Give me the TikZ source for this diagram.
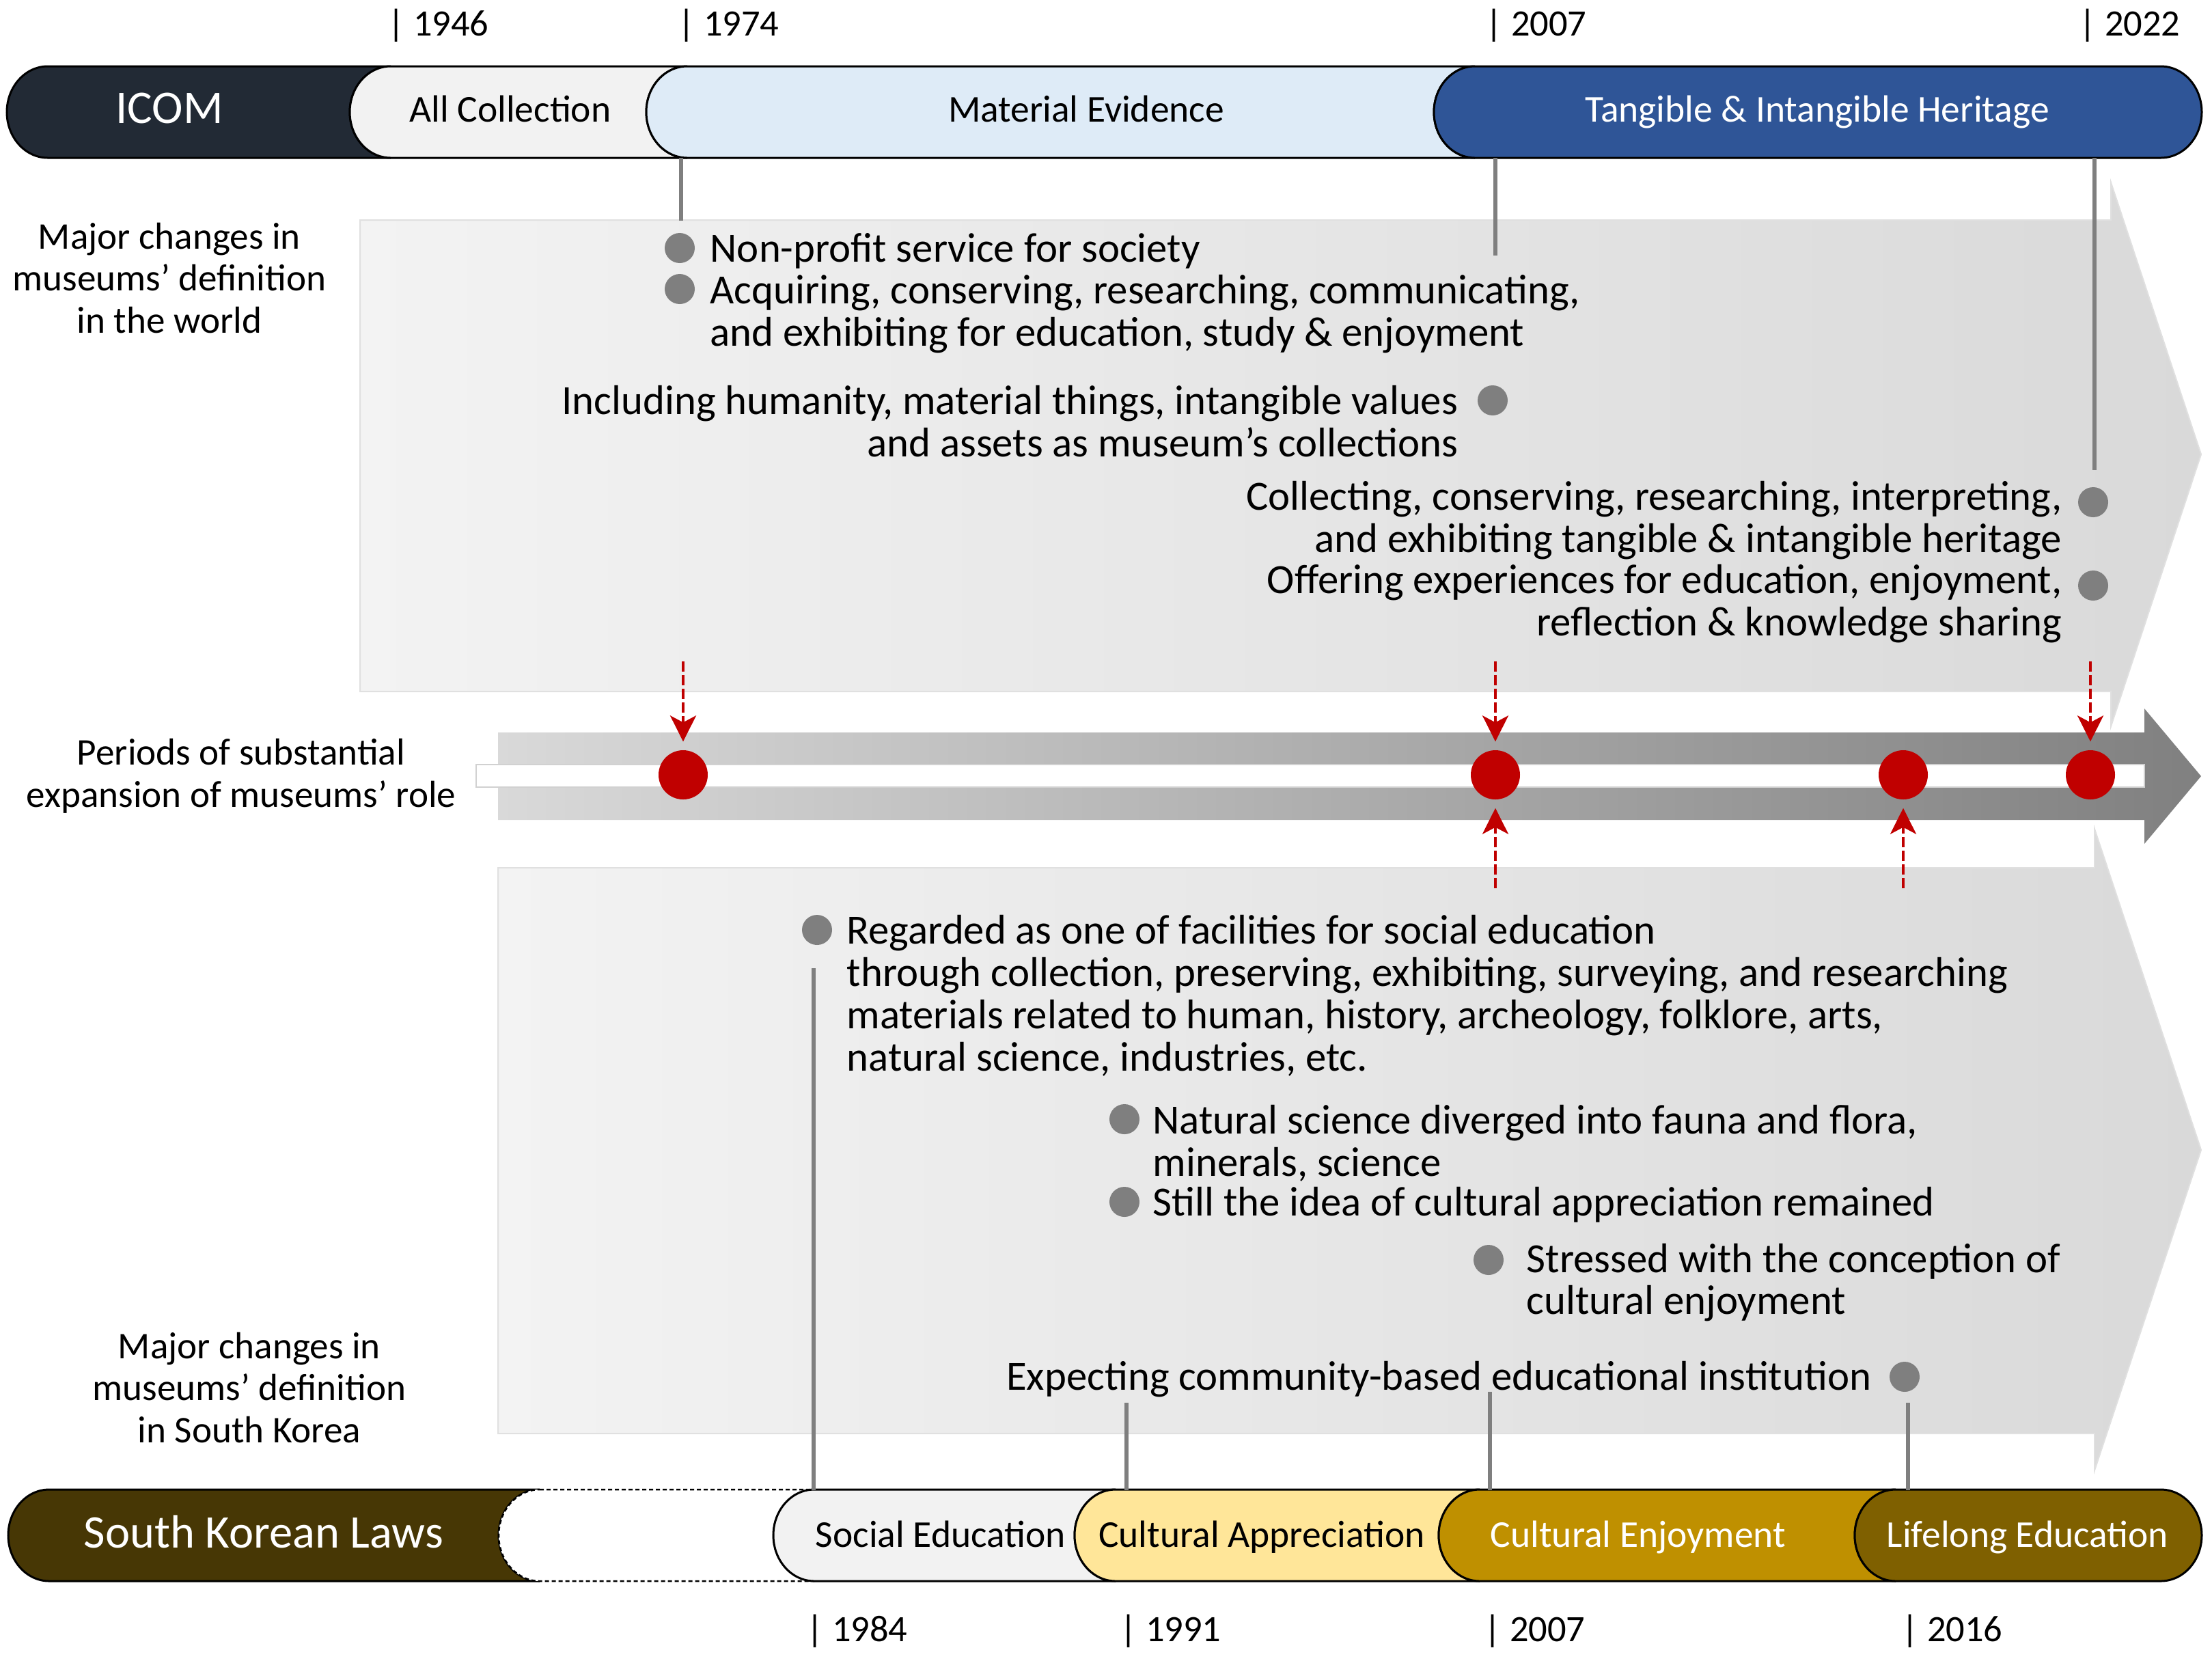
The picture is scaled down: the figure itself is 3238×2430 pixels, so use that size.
\documentclass[tikz,border=0pt]{standalone}
\usepackage{fontspec}
\setmainfont{Carlito}
\usepackage{tikz}
\usetikzlibrary{arrows.meta}
\usepackage{xcolor}
\definecolor{icomnavy}{RGB}{34,42,53}
\definecolor{palegrey}{RGB}{242,242,242}
\definecolor{paleblue}{RGB}{222,235,247}
\definecolor{heritblue}{RGB}{47,85,151}
\definecolor{lawbrown}{RGB}{71,55,5}
\definecolor{apprgold}{RGB}{255,230,153}
\definecolor{enjgold}{RGB}{191,144,0}
\definecolor{lifebrown}{RGB}{127,96,0}
\definecolor{dotgrey}{RGB}{127,127,127}
\definecolor{markred}{RGB}{192,0,0}
\definecolor{shadelight}{RGB}{243,243,243}
\definecolor{shademid}{RGB}{217,217,217}
\definecolor{banddark}{RGB}{128,128,128}
\tikzset{
  seglabel/.style={font=\fontsize{15.8}{18}\selectfont,inner sep=0pt,anchor=base},
  bignamelabel/.style={font=\fontsize{19.5}{21}\selectfont,inner sep=0pt,anchor=base,text=white},
  yearnode/.style={font=\fontsize{15.5}{17}\selectfont,anchor=west,inner sep=0pt},
  bodynode/.style={font=\fontsize{17.3}{17.6}\selectfont,inner sep=0pt},
  sidenode/.style={font=\fontsize{15.7}{17.6}\selectfont,inner sep=0pt,align=center},
  bulletnode/.style={circle,fill=dotgrey,minimum size=4.4mm,inner sep=0pt},
  reddotnode/.style={circle,fill=markred,minimum size=7.2mm,inner sep=0pt},
  leadline/.style={draw=dotgrey,line width=0.6mm},
  redarrow/.style={draw=markred,line width=0.4mm,dash pattern=on 1.5mm off 0.5mm,
    -{Stealth[length=3.8mm,width=3.8mm,inset=1mm]},shorten >=1.2mm},
  segline/.style={draw=black,line width=0.3mm},
  bigarrow/.style={left color=shadelight,right color=shademid,draw=black!12,line width=0.2mm}
}
\newcommand{\barseg}[4]{%
  \path[segline,#1] (#2,#4-67) -- (#3,#4-67)
    arc[start angle=270,end angle=90,x radius=60,y radius=67]
    -- (#2,#4+67) arc[start angle=90,end angle=270,x radius=60,y radius=67] -- cycle;}
\newcommand{\barend}[4]{%
  \path[segline,#1] (#2,#4-67) -- (#3,#4-67)
    arc[start angle=-90,end angle=90,x radius=60,y radius=67]
    -- (#2,#4+67) arc[start angle=90,end angle=270,x radius=60,y radius=67] -- cycle;}

\begin{document}
\begin{tikzpicture}[x=0.1mm,y=-0.1mm]
  \useasboundingbox (0,0) rectangle (3238,2430);
  \path[bigarrow] (527,322) -- (3090,322) -- (3090,267) -- (3222,665)
    -- (3090,1063) -- (3090,1012) -- (527,1012) -- cycle;
  \path[bigarrow] (729,1270) -- (3066,1270) -- (3066,1213) -- (3222,1683)
    -- (3066,2152) -- (3066,2098) -- (729,2098) -- cycle;
  \path[left color=shademid,right color=banddark] (729,1072) -- (3139,1072)
    -- (3139,1037) -- (3222,1136) -- (3139,1235) -- (3139,1200) -- (729,1200) -- cycle;
  \draw[draw=black!18,line width=0.2mm,fill=white] (697,1119) rectangle (3139,1152);

  \barseg{fill=icomnavy}{70}{572}{164}
  \barseg{fill=palegrey}{572}{1006}{164}
  \barseg{fill=paleblue}{1006}{2159}{164}
  \barend{fill=heritblue}{2159}{3163}{164}
  \node[bignamelabel] (icom) at (248,180) {ICOM};
  \node[seglabel] (allcoll) at (747,178) {All Collection};
  \node[seglabel] (mateev) at (1590,178) {Material Evidence};
  \node[seglabel,text=white] (herit) at (2660,178) {Tangible \& Intangible Heritage};
  \node[yearnode] (y1946) at (567,37) {| 1946};
  \node[yearnode] (y1974) at (992,37) {| 1974};
  \node[yearnode] (y2007) at (2174,37) {| 2007};
  \node[yearnode] (y2022) at (3043,37) {| 2022};

  \barseg{fill=lawbrown}{72}{790}{2247}
  \barseg{fill=white,dash pattern=on 0.6mm off 0.4mm,line width=0.25mm}{790}{1192}{2247}
  \barseg{fill=palegrey}{1192}{1633}{2247}
  \barseg{fill=apprgold}{1633}{2166}{2247}
  \barseg{fill=enjgold}{2166}{2775}{2247}
  \barend{fill=lifebrown}{2775}{3163}{2247}
  \node[bignamelabel] (krlaw) at (386,2265) {South Korean Laws};
  \node[seglabel] (soced) at (1377,2264) {Social Education};
  \node[seglabel] (culapp) at (1847,2264) {Cultural Appreciation};
  \node[seglabel,text=white] (culenj) at (2398,2264) {Cultural Enjoyment};
  \node[seglabel,text=white] (lifeed) at (2968,2264) {Lifelong Education};
  \node[yearnode] (y1984) at (1180,2387) {| 1984};
  \node[yearnode] (y1991) at (1639,2387) {| 1991};
  \node[yearnode] (y2007k) at (2172,2387) {| 2007};
  \node[yearnode] (y2016) at (2783,2387) {| 2016};

  \coordinate (t1974) at (997,231);
  \coordinate (e1974) at (997,323);
  \coordinate (t2007) at (2189,231);
  \coordinate (e2007) at (2189,374);
  \coordinate (t2022) at (3066,231);
  \coordinate (e2022) at (3066,688);
  \draw[leadline] (t1974) -- (e1974);
  \draw[leadline] (t2007) -- (e2007);
  \draw[leadline] (t2022) -- (e2022);
  \coordinate (b1984) at (1191,2181);
  \coordinate (f1984) at (1191,1417);
  \coordinate (b1991) at (1649,2181);
  \coordinate (f1991) at (1649,2053);
  \coordinate (b2007) at (2181,2181);
  \coordinate (f2007) at (2181,2037);
  \coordinate (b2016) at (2793,2181);
  \coordinate (f2016) at (2793,2053);
  \draw[leadline] (b1984) -- (f1984);
  \draw[leadline] (b1991) -- (f1991);
  \draw[leadline] (b2007) -- (f2007);
  \draw[leadline] (b2016) -- (f2016);

  \node[sidenode] (worldlbl) at (248,407) {Major changes in\\museums’ definition\\in the world};
  \node[sidenode] (periodlbl) at (353,1136) {Periods of substantial\\expansion of museums’ role};
  \node[sidenode] (korealbl) at (365,2031) {Major changes in\\museums’ definition\\in South Korea};

  \node[bulletnode] (w1) at (995,363) {};
  \node[bulletnode] (w2) at (995,423) {};
  \node[bulletnode] (w3) at (2185,586) {};
  \node[bulletnode] (w4) at (3064,735) {};
  \node[bulletnode] (w5) at (3064,857) {};
  \node[bodynode,anchor=west] (w1t) at (1039,367) {Non-profit service for society};
  \node[bodynode,anchor=west,align=left] (w2t) at (1039,460)
    {Acquiring, conserving, researching, communicating,\\and exhibiting for education, study \& enjoyment};
  \node[bodynode,anchor=east,align=right] (w3t) at (2135,617)
    {Including humanity, material things, intangible values\\and assets as museum’s collections};
  \node[bodynode,anchor=east,align=right] (w4t) at (3019,762)
    {Collecting, conserving, researching, interpreting,\\and exhibiting tangible \& intangible heritage};
  \node[bodynode,anchor=east,align=right] (w5t) at (3019,884)
    {Offering experiences for education, enjoyment,\\reflection \& knowledge sharing};

  \node[bulletnode] (k1) at (1196,1361) {};
  \node[bulletnode] (k2) at (1646,1638) {};
  \node[bulletnode] (k3) at (1646,1759) {};
  \node[bulletnode] (k4) at (2179,1844) {};
  \node[bulletnode] (k5) at (2788,2015) {};
  \node[bodynode,anchor=west,align=left] (k1t) at (1239,1457)
    {Regarded as one of facilities for social education\\through collection, preserving, exhibiting, surveying, and researching\\materials related to human, history, archeology, folklore, arts,\\natural science, industries, etc.};
  \node[bodynode,anchor=west,align=left] (k2t) at (1687,1673)
    {Natural science diverged into fauna and flora,\\minerals, science};
  \node[bodynode,anchor=west] (k3t) at (1687,1763) {Still the idea of cultural appreciation remained};
  \node[bodynode,anchor=west,align=left] (k4t) at (2234,1877)
    {Stressed with the conception of\\cultural enjoyment};
  \node[bodynode,anchor=east] (k5t) at (2740,2019) {Expecting community-based educational institution};

  \node[reddotnode] (p1) at (1000,1134) {};
  \node[reddotnode] (p2) at (2189,1134) {};
  \node[reddotnode] (p3) at (2786,1134) {};
  \node[reddotnode] (p4) at (3060,1134) {};
  \coordinate (a1) at (1000,968);
  \coordinate (a2) at (2189,968);
  \coordinate (a4) at (3060,968);
  \coordinate (u2) at (2189,1300);
  \coordinate (u3) at (2786,1300);
  \draw[redarrow] (a1) -- (p1);
  \draw[redarrow] (a2) -- (p2);
  \draw[redarrow] (a4) -- (p4);
  \draw[redarrow] (u2) -- (p2);
  \draw[redarrow] (u3) -- (p3);
\end{tikzpicture}
\end{document}
